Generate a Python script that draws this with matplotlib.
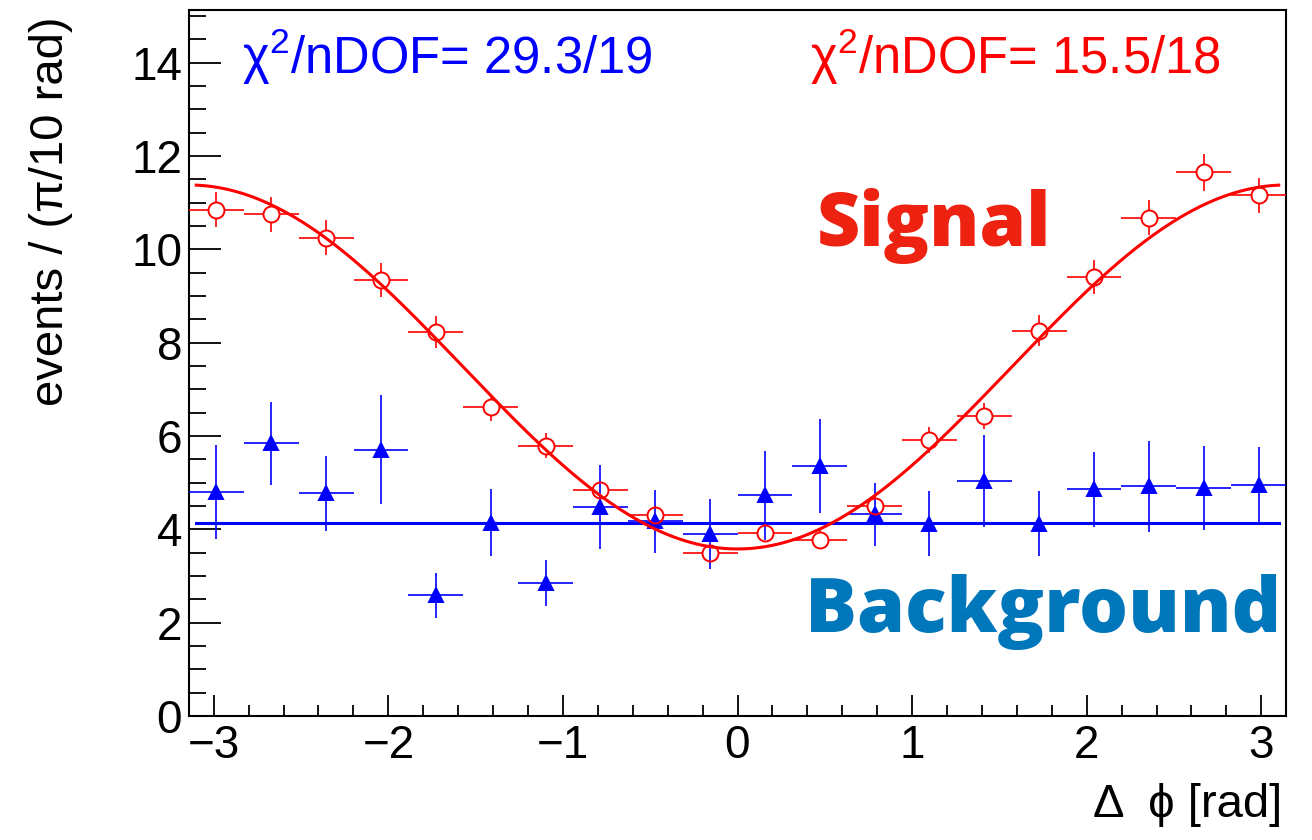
import numpy as np
import matplotlib
matplotlib.use("Agg")
import matplotlib.pyplot as plt
from matplotlib.ticker import MultipleLocator

# ---- binning: 20 bins over [-pi, pi] ----
n_bins = 20
bin_edges = np.linspace(-np.pi, np.pi, n_bins + 1)
bin_centers = 0.5 * (bin_edges[:-1] + bin_edges[1:])
bin_half = 0.5 * (bin_edges[1] - bin_edges[0])

# ---- signal sample (open red circles) ----
signal = [10.85, 10.75, 10.25, 9.34, 8.23, 6.62, 5.79, 4.84, 4.31, 3.49,
          3.93, 3.78, 4.50, 5.92, 6.43, 8.26, 9.41, 10.68, 11.65, 11.16]
signal_err = [0.37, 0.37, 0.37, 0.36, 0.35, 0.29, 0.27, 0.18, 0.18, 0.18,
              0.18, 0.20, 0.20, 0.28, 0.28, 0.34, 0.36, 0.37, 0.40, 0.38]

# ---- background sample (filled blue triangles) ----
background = [4.80, 5.84, 4.77, 5.71, 2.59, 4.14, 2.85, 4.48, 4.17, 3.89,
              4.73, 5.36, 4.32, 4.12, 5.04, 4.12, 4.86, 4.92, 4.88, 4.96]
background_err = [1.00, 0.88, 0.80, 1.17, 0.48, 0.72, 0.50, 0.90, 0.68, 0.75,
                  0.95, 1.00, 0.68, 0.70, 0.98, 0.70, 0.80, 0.97, 0.90, 0.80]

# ---- fit results ----
sig_fit_const = 7.48      # p0 + p1*cos(dphi)
sig_fit_amp = -3.90
bkg_fit_const = 4.14      # flat
fit_range = (-3.1, 3.1)
sig_chi2_label = r"$\mathrm{\chi}^{2}$/nDOF= 15.5/18"
bkg_chi2_label = r"$\mathrm{\chi}^{2}$/nDOF= 29.3/19"

RED = "#ff0000"
BLUE = "#0000ff"

plt.rcParams["font.family"] = ["Liberation Sans", "DejaVu Sans"]
plt.rcParams["mathtext.fontset"] = "custom"
plt.rcParams["mathtext.rm"] = "Liberation Sans"
plt.rcParams["mathtext.it"] = "Liberation Sans"
plt.rcParams["mathtext.bf"] = "Liberation Sans:bold"

W, H, DPI = 1312, 840, 100
fig = plt.figure(figsize=(W / DPI, H / DPI), dpi=DPI)
ax = fig.add_axes([189 / W, 1 - 716 / H, (1286 - 189) / W, (716 - 10) / H])
ax.set_xlim(-np.pi, np.pi)
ax.set_ylim(0, 15.13)

# ---- axis styling ----
for s in ax.spines.values():
    s.set_linewidth(1.5)
    s.set_color("black")
ax.xaxis.set_major_locator(MultipleLocator(1))
ax.xaxis.set_minor_locator(MultipleLocator(0.2))
ax.yaxis.set_major_locator(MultipleLocator(2))
ax.yaxis.set_minor_locator(MultipleLocator(0.5))
ax.tick_params(axis="x", which="major", direction="in", length=15, width=1.3,
               labelsize=33, pad=6)
ax.tick_params(axis="x", which="minor", direction="in", length=8, width=1.3)
ax.tick_params(axis="y", which="major", direction="in", length=23, width=1.3,
               labelsize=33, pad=5)
ax.tick_params(axis="y", which="minor", direction="in", length=12, width=1.3)


def data_per_px():
    p0 = ax.transData.transform((0, 0))
    p1 = ax.transData.transform((1, 1))
    return 1.0 / (p1[0] - p0[0]), 1.0 / (p1[1] - p0[1])


def draw_points(x, y, yerr, color, marker, ms, filled, gap_px, z):
    dx, dy = data_per_px()
    x = np.asarray(x)
    y = np.asarray(y)
    yerr = np.asarray(yerr)
    gx, gy = gap_px * dx, gap_px * dy
    # error bars with a gap around the marker
    for xi, yi, ei in zip(x, y, yerr):
        segs = []
        if ei > gy:
            segs.append(([xi, xi], [yi + gy, yi + ei]))
            segs.append(([xi, xi], [yi - gy, yi - ei]))
        segs.append(([xi - bin_half, xi - gx], [yi, yi]))
        segs.append(([xi + gx, xi + bin_half], [yi, yi]))
        for sx, sy in segs:
            ax.plot(sx, sy, color=color, lw=1.2, solid_capstyle="butt", zorder=z)
    ax.plot(x, y, linestyle="none", marker=marker, ms=ms,
            mfc=color if filled else "none", mec=color, mew=1.4, zorder=z + 0.1)


# background points and flat fit
draw_points(bin_centers, background, background_err, BLUE, "^", 10.5, True, 0, 3)
ax.plot(list(fit_range), [bkg_fit_const, bkg_fit_const], color=BLUE, lw=2.2, zorder=4)

# signal points and cosine fit
draw_points(bin_centers, signal, signal_err, RED, "o", 11.5, False, 8, 5)
xf = np.linspace(fit_range[0], fit_range[1], 400)
ax.plot(xf, sig_fit_const + sig_fit_amp * np.cos(xf), color=RED, lw=2.2, zorder=6)

# ---- texts ----
fig.text(242 / W, 1 - 74 / H, bkg_chi2_label, color=BLUE, fontsize=36.5,
         ha="left", va="baseline")
fig.text(810 / W, 1 - 74 / H, sig_chi2_label, color=RED, fontsize=36.5,
         ha="left", va="baseline")

fig.text(817 / W, 1 - 246 / H, "Signal", color="#ee2211", fontsize=54,
         family=["Open Sans", "DejaVu Sans"], fontweight="extra bold",
         ha="left", va="baseline")
fig.text(805 / W, 1 - 632 / H, "Background", color="#0077bb", fontsize=55.5,
         family=["Open Sans", "DejaVu Sans"], fontweight="extra bold",
         ha="left", va="baseline")

fig.text(51 / W, 1 - 16 / H, "events / (\u03c0/10 rad)", rotation=90, fontsize=34,
         ha="center", va="top")
fig.text(1282 / W, 1 - 827 / H, "\u0394  \u03d5 [rad]", fontsize=34,
         family=["Liberation Sans", "DejaVu Sans"], ha="right", va="bottom")

fig.savefig("out.png", dpi=DPI)
